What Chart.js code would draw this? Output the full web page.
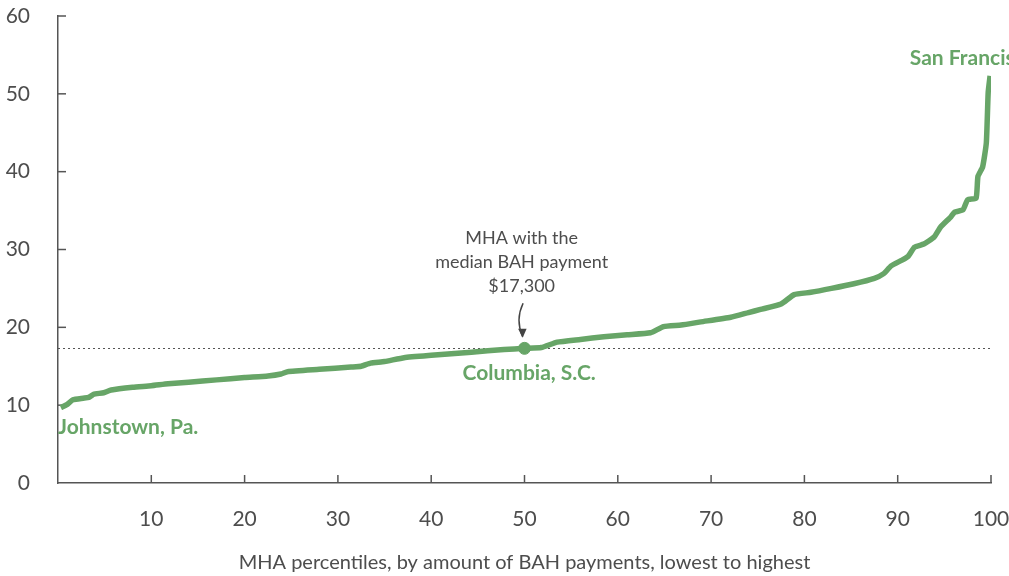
<!DOCTYPE html>
<html>
<head>
<meta charset="utf-8">
<script src="https://cdn.jsdelivr.net/npm/chart.js@4"></script>
<style>
  html, body { margin: 0; padding: 0; background: #fff; }
  #wrap { width: 1009px; height: 576px; position: relative; }
</style>
</head>
<body>
<div id="wrap"><canvas id="c" width="1009" height="576"></canvas></div>
<script>
// ---- Data ----
const percentiles = [0.3, 1.0, 1.6, 2.7, 3.3, 3.8, 4.9, 5.7, 8.0, 10.0, 11.8, 14.0, 17.0, 20.0, 22.5, 23.9, 24.6, 28.0, 31.4, 32.5, 33.5, 35.0, 37.1, 40.0, 44.3, 47.8, 50.0, 51.8, 53.5, 56.0, 58.5, 61.0, 63.5, 64.9, 66.8, 68.9, 72.1, 74.0, 75.3, 77.5, 78.9, 80.7, 82.9, 85.3, 87.5, 88.5, 89.3, 90.4, 91.1, 91.8, 92.8, 93.9, 94.6, 95.7, 96.1, 97.0, 97.5, 98.4, 98.6, 99.1, 99.5, 99.7, 99.9];
const bahThousands = [9.7, 10.1, 10.7, 10.9, 11.0, 11.4, 11.6, 11.95, 12.3, 12.5, 12.75, 12.95, 13.25, 13.55, 13.75, 14.0, 14.3, 14.6, 14.9, 15.0, 15.4, 15.6, 16.1, 16.4, 16.8, 17.15, 17.3, 17.4, 18.1, 18.45, 18.8, 19.05, 19.3, 20.1, 20.3, 20.7, 21.3, 21.9, 22.3, 23.0, 24.2, 24.5, 25.0, 25.6, 26.3, 26.9, 27.9, 28.6, 29.1, 30.3, 30.7, 31.6, 32.9, 34.2, 34.8, 35.1, 36.4, 36.6, 39.4, 40.6, 43.7, 50.2, 52.3];
const medianPercentile = 50;
const medianValue = 17.3;
const yTicks = [0, 10, 20, 30, 40, 50, 60];
const xTicks = [10, 20, 30, 40, 50, 60, 70, 80, 90, 100];
const xTitle = 'MHA percentiles, by amount of BAH payments, lowest to highest';
const labelLow = 'Johnstown, Pa.';
const labelMid = 'Columbia, S.C.';
const labelHigh = 'San Francisco';
const noteLines = ['MHA with the', 'median BAH payment', '$17,300'];

const GREEN = '#67a567';
const AXIS = '#555555';
const TEXT = '#4d4d4d';
const FONT = 'Lato, "Open Sans", sans-serif';

const points = percentiles.map((p, i) => ({ x: p, y: bahThousands[i] }));

function zeroPad(s) { s.paddingTop = 0; s.paddingBottom = 0; s.paddingLeft = 0; s.paddingRight = 0; }

const decor = {
  id: 'decor',
  beforeDatasetsDraw(chart) {
    const { ctx, scales: { x, y }, chartArea: a } = chart;
    ctx.save();
    ctx.strokeStyle = '#555';
    ctx.lineWidth = 1;
    ctx.setLineDash([2, 3]);
    const my = Math.round(y.getPixelForValue(medianValue)) + 0.5;
    ctx.beginPath();
    ctx.moveTo(a.left, my);
    ctx.lineTo(a.right, my);
    ctx.stroke();
    ctx.setLineDash([]);
    ctx.strokeStyle = AXIS;
    ctx.lineWidth = 1.5;
    yTicks.forEach(v => {
      if (v === 0) return;
      const py = y.getPixelForValue(v);
      ctx.beginPath();
      ctx.moveTo(a.left, py);
      ctx.lineTo(a.left + 8, py);
      ctx.stroke();
    });
    xTicks.forEach(v => {
      const px = x.getPixelForValue(v);
      ctx.beginPath();
      ctx.moveTo(px, a.bottom);
      ctx.lineTo(px, a.bottom - 8);
      ctx.stroke();
    });
    ctx.restore();
  },
  afterDatasetsDraw(chart) {
    const { ctx, scales: { x, y } } = chart;
    ctx.save();
    ctx.fillStyle = GREEN;
    ctx.textBaseline = 'middle';
    ctx.font = 'bold 21px ' + FONT;
    ctx.textAlign = 'left';
    ctx.fillText(labelLow, x.getPixelForValue(0), y.getPixelForValue(7.2));
    ctx.fillText(labelHigh, x.getPixelForValue(91.3), y.getPixelForValue(54.6));
    ctx.textAlign = 'center';
    ctx.fillText(labelMid, x.getPixelForValue(50.5), y.getPixelForValue(14.1));

    ctx.fillStyle = TEXT;
    ctx.font = '18px ' + FONT;
    const cx = x.getPixelForValue(49.7);
    noteLines.forEach((t, i) => {
      ctx.fillText(t, cx, y.getPixelForValue(31.5 - i * 3.1));
    });
    const sx = x.getPixelForValue(49.85), sy = y.getPixelForValue(23.1);
    const ex = x.getPixelForValue(49.8), ey = y.getPixelForValue(18.8);
    const qx = x.getPixelForValue(49.0), qy = y.getPixelForValue(21.0);
    ctx.strokeStyle = '#444';
    ctx.lineWidth = 1.5;
    ctx.beginPath();
    ctx.moveTo(sx, sy);
    ctx.quadraticCurveTo(qx, qy, ex, ey);
    ctx.stroke();
    ctx.fillStyle = '#444';
    ctx.beginPath();
    ctx.moveTo(ex, ey + 1);
    ctx.lineTo(ex - 4.5, ey - 8);
    ctx.lineTo(ex + 4, ey - 8);
    ctx.closePath();
    ctx.fill();
    ctx.restore();
  }
};

new Chart(document.getElementById('c'), {
  type: 'line',
  data: {
    datasets: [
      {
        data: points,
        borderColor: GREEN,
        borderWidth: 5.5,
        pointRadius: 0,
        tension: 0.15,
        borderJoinStyle: 'round',
        borderCapStyle: 'butt',
        fill: false,
        order: 2
      },
      {
        type: 'scatter',
        data: [{ x: medianPercentile, y: medianValue }],
        backgroundColor: GREEN,
        borderColor: GREEN,
        pointRadius: 6,
        order: 1
      }
    ]
  },
  options: {
    responsive: false,
    animation: false,
    events: [],
    layout: { padding: { top: 16, right: 18, left: 0, bottom: 0 } },
    plugins: { legend: { display: false }, tooltip: { enabled: false } },
    scales: {
      x: {
        type: 'linear',
        min: 0, max: 100,
        afterFit(s) { s.height = 93; zeroPad(s); },
        afterBuildTicks(s) { s.ticks = xTicks.map(v => ({ value: v })); },
        border: { display: true, color: AXIS, width: 1.5 },
        grid: { display: true, drawOnChartArea: false, drawTicks: false },
        ticks: { color: TEXT, font: { family: FONT, size: 21 }, padding: 24, maxRotation: 0, autoSkip: false },
        title: { display: true, text: xTitle, color: TEXT, font: { family: FONT, size: 20 }, padding: { top: 14, bottom: 1 } }
      },
      y: {
        min: 0, max: 60,
        afterFit(s) { s.width = 58; zeroPad(s); },
        afterBuildTicks(s) { s.ticks = yTicks.map(v => ({ value: v })); },
        border: { display: true, color: AXIS, width: 1.5 },
        grid: { display: true, drawOnChartArea: false, drawTicks: false },
        ticks: { color: TEXT, font: { family: FONT, size: 21 }, padding: 28 }
      }
    }
  },
  plugins: [decor]
});
</script>
</body>
</html>
